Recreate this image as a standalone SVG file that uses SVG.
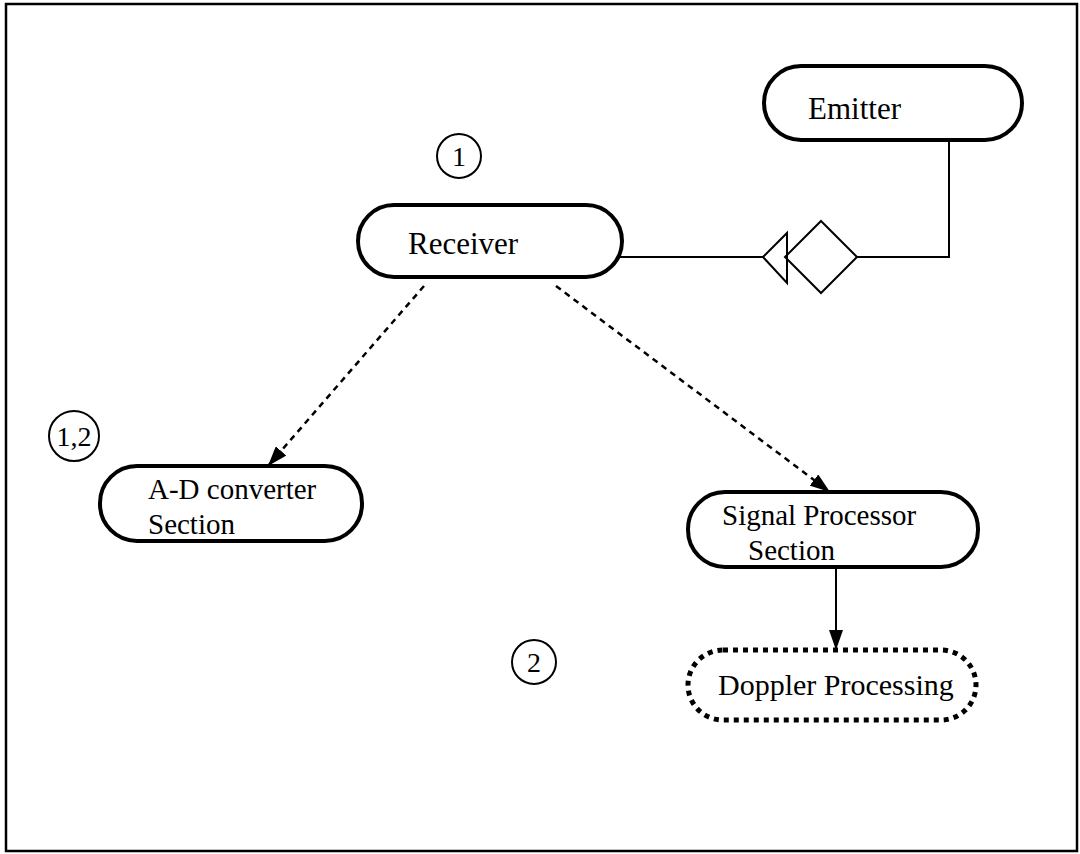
<svg xmlns="http://www.w3.org/2000/svg" width="1080" height="854" viewBox="0 0 1080 854">
<defs>
<marker id="arr" viewBox="0 0 20 14" refX="20" refY="7" markerWidth="20" markerHeight="14" markerUnits="userSpaceOnUse" orient="auto">
<path d="M0,0 L20,7 L0,14 Z" fill="#000"/>
</marker>
</defs>
<style>
.node{fill:#fff;stroke:#000;stroke-width:4}
.dot{fill:#fff;stroke:#000;stroke-width:5;stroke-dasharray:5 5}
.lbl{font-family:"Liberation Serif",serif;font-size:31px;fill:#000}
.lbl2{font-family:"Liberation Serif",serif;font-size:29px;fill:#000}
.tag{fill:#fff;stroke:#000;stroke-width:2}
.tagt{font-family:"Liberation Serif",serif;font-size:28px;fill:#000;text-anchor:middle}
.ln{fill:none;stroke:#000;stroke-width:2}
.dash{fill:none;stroke:#000;stroke-width:2.5;stroke-dasharray:6 5}
</style>
<rect x="6" y="4" width="1071" height="847" fill="#fff" stroke="#000" stroke-width="2.5"/>
<g id="connectors">
<polyline class="ln" points="949,140 949,257 857,257"/>
<polygon class="ln" points="821,221 857,257 821,293 785,257"/>
<polygon class="ln" points="763,257 787,233 787,283"/>
<line class="ln" x1="620" y1="257" x2="763" y2="257"/>
<line class="dash" x1="424" y1="286" x2="268" y2="466" marker-end="url(#arr)"/>
<line class="dash" x1="556" y1="286" x2="830" y2="492" marker-end="url(#arr)"/>
<line class="ln" x1="836" y1="567" x2="836" y2="650" marker-end="url(#arr)"/>
</g>
<g id="emitter">
<rect class="node" x="764" y="66" width="258" height="74" rx="37"/>
<text class="lbl" x="808" y="119">Emitter</text>
</g>
<g id="receiver">
<rect class="node" x="358" y="205" width="264" height="72" rx="36"/>
<text class="lbl" x="408" y="254">Receiver</text>
</g>
<g id="tag1">
<circle class="tag" cx="459" cy="156" r="22"/>
<text class="tagt" x="459" y="166">1</text>
</g>
<g id="tag12">
<circle class="tag" cx="74" cy="436" r="25"/>
<text class="tagt" x="74" y="446">1,2</text>
</g>
<g id="tag2">
<circle class="tag" cx="534" cy="662" r="22"/>
<text class="tagt" x="534" y="672">2</text>
</g>
<g id="adconverter">
<rect class="node" x="100" y="466" width="262" height="75" rx="37"/>
<text class="lbl2" x="148" y="499">A-D converter</text>
<text class="lbl2" x="148" y="534">Section</text>
</g>
<g id="signalprocessor">
<rect class="node" x="688" y="492" width="290" height="75" rx="37"/>
<text class="lbl2" x="722" y="525">Signal Processor</text>
<text class="lbl2" x="748" y="560">Section</text>
</g>
<g id="doppler">
<rect class="dot" x="688" y="650" width="288" height="70" rx="35"/>
<text class="lbl" x="718" y="695" style="font-size:30px">Doppler Processing</text>
</g>
</svg>
